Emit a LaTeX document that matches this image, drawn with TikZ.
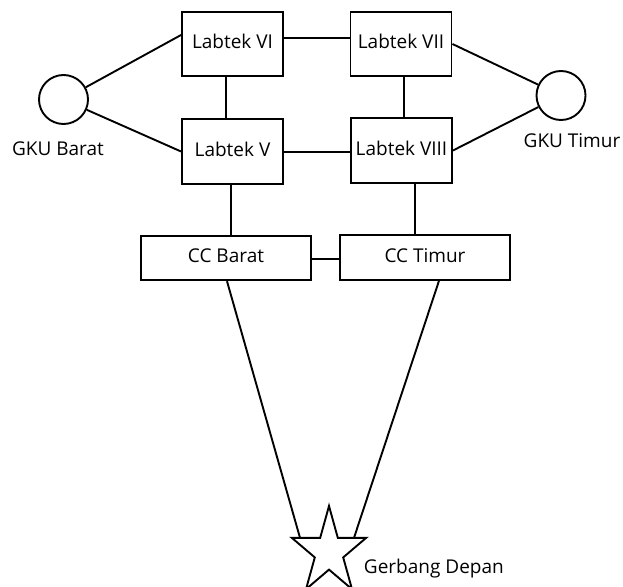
\documentclass[tikz,border=0pt]{standalone}
\usepackage{fontspec}
\setmainfont{Open Sans}
\usetikzlibrary{calc}
\begin{document}
\begin{tikzpicture}[x=1pt,y=-1pt,
  line width=1.9pt,
  font=\fontsize{19}{23}\selectfont,
  box/.style={draw, inner sep=0pt, text height=14pt, text depth=5pt},
  labbox/.style={box, minimum width=101pt, minimum height=64.5pt},
  ccbox/.style={box, minimum width=170pt, minimum height=44.5pt},
  gku/.style={draw, circle, minimum size=49pt, inner sep=0pt},
  lbl/.style={inner sep=0pt, anchor=base}]
\useasboundingbox (0,0) rectangle (623,586);
% buildings
\node[labbox] (L6) at (232.5,44) {Labtek VI};
\node[labbox] (L5) at (232.5,151.5) {Labtek V};
\node[labbox] (L7) at (401,44) {Labtek VII};
\node[labbox] (L8) at (401.5,150.5) {Labtek VIII};
\node[ccbox] (CCB) at (226,258) {CC Barat};
\node[ccbox] (CCT) at (425,257.5) {CC Timur};
% GKU
\node[gku] (GB) at (63.5,99.5) {};
\node[gku] (GT) at (561,95.5) {};
\node[lbl] (GBl) at (58,155) {GKU Barat};
\node[lbl] (GTl) at (572,147) {GKU Timur};
% star
\draw[line join=miter] (329,506) -- (320.2,537.8) -- (291.8,537.8) -- (314.8,557.4)
  -- (306,589.2) -- (329,569.6) -- (352,589.2) -- (343.2,557.4)
  -- (366.2,537.8) -- (337.8,537.8) -- cycle;
\coordinate (GD) at (329,552);
\coordinate (GDl) at (300,537.8);
\coordinate (GDr) at (354,537.8);
\node[inner sep=0pt, anchor=base west] (GDt) at (363,573) {Gerbang Depan};
% connectors
\draw (GB) -- ([yshift=9pt]L6.west);
\draw (GB) -- (L5.west);
\draw (GT) -- (L7.east);
\draw (GT) -- (L8.east);
\draw ([yshift=6pt]L6.east) -- ([yshift=6pt]L7.west);
\draw ([yshift=-0.5pt]L5.east) -- ([yshift=-1.5pt]L8.west);
\draw ([xshift=-6.5pt]L6.south) -- ([xshift=-6.5pt]L5.north);
\draw ([xshift=3pt]L7.south) -- ([xshift=2.5pt]L8.north);
\draw ([xshift=-1.5pt]L5.south) -- ([xshift=5pt]CCB.north);
\draw ([xshift=13.5pt]L8.south) -- ([xshift=-10pt]CCT.north);
\draw ([yshift=-1pt]CCB.east) -- ([yshift=-1.5pt]CCT.west);
\draw ([xshift=1pt]CCB.south) -- (GDl);
\draw ([xshift=14pt]CCT.south) -- (GDr);
\end{tikzpicture}
\end{document}
